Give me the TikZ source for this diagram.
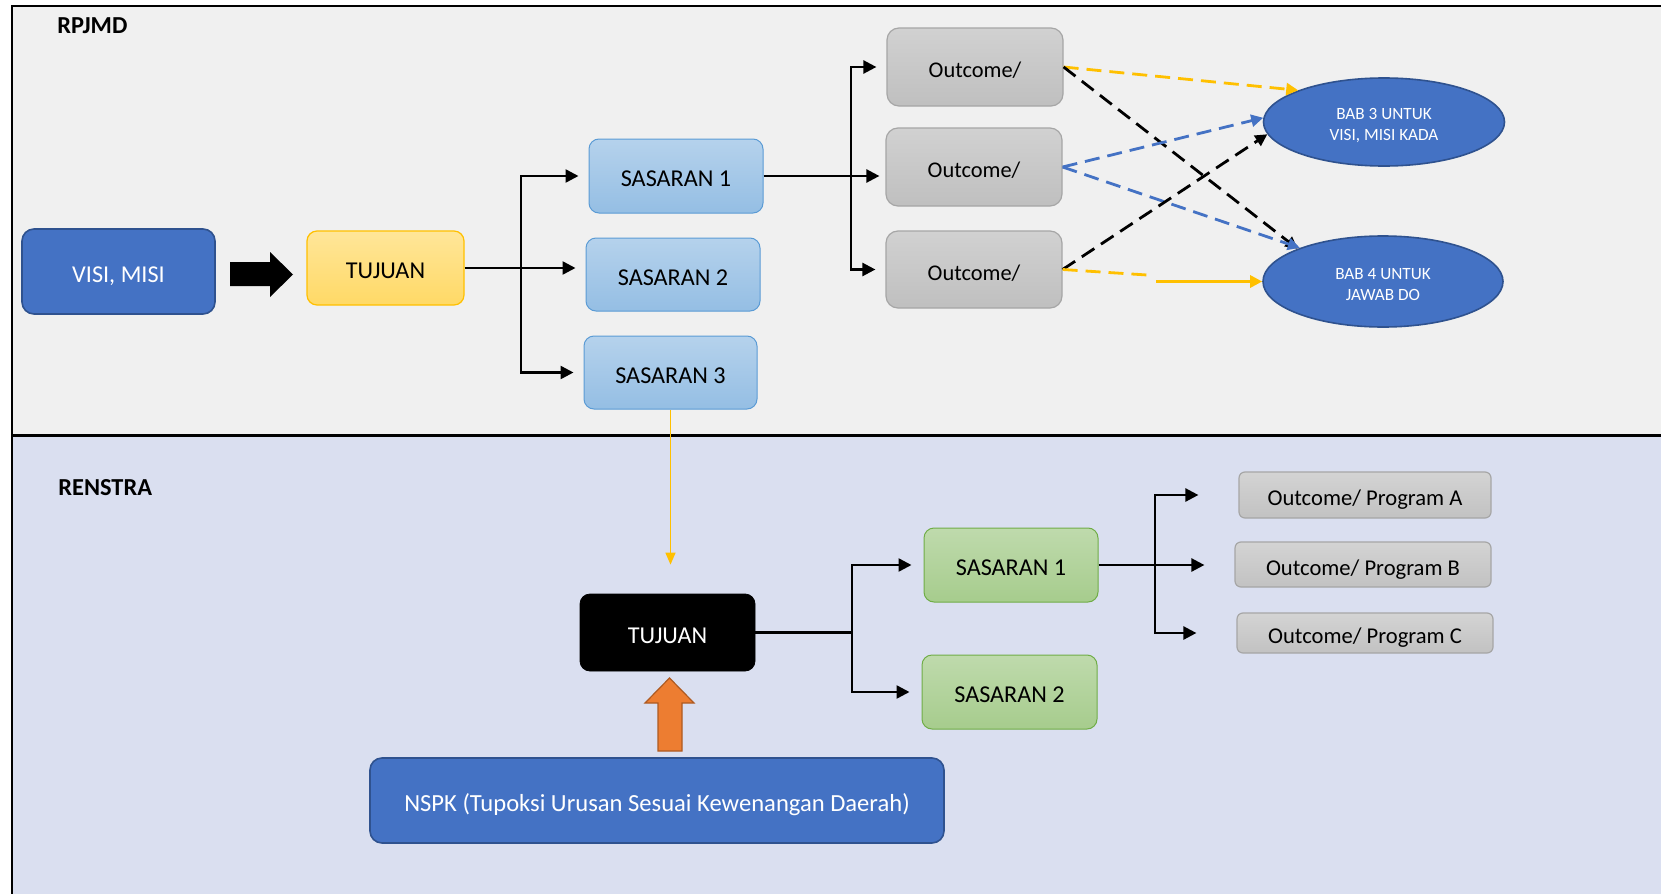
\documentclass[tikz,border=0pt]{standalone}
\usepackage{fontspec}
\setmainfont{Carlito}
\usetikzlibrary{arrows.meta,shapes.geometric}
\definecolor{bgtop}{HTML}{F0F0F0}
\definecolor{bgbot}{HTML}{DADFF0}
\definecolor{offblue}{HTML}{4472C4}
\definecolor{offbluedk}{HTML}{2F528F}
\definecolor{offyellow}{HTML}{FFC000}
\definecolor{offorange}{HTML}{ED7D31}
\definecolor{offorangedk}{HTML}{AE5A21}
\definecolor{offgreen}{HTML}{70AD47}
\definecolor{skyblue}{HTML}{5B9BD5}
\definecolor{midgray}{HTML}{A6A6A6}

\begin{document}
\begin{tikzpicture}[x=0.5pt, y=-0.5pt,
    box/.style={draw, rounded corners=5pt, align=center, inner sep=0pt, text height=10.6pt, text depth=0pt,
      font=\fontsize{12.1}{14}\selectfont},
    bluebox/.style={box, fill=offblue, draw=offbluedk, line width=0.8pt, text=white, rounded corners=6pt},
    yelbox/.style={box, top color=offyellow!40, bottom color=offyellow!60, draw=offyellow, line width=0.6pt},
    sasbox/.style={box, top color=skyblue!45, bottom color=skyblue!65, draw=skyblue, line width=0.5pt},
    ocbox/.style={box, top color=black!18, bottom color=black!25, draw=midgray, line width=0.6pt, rounded corners=6pt,
      font=\fontsize{11.2}{13}\selectfont},
    grnbox/.style={box, top color=offgreen!45, bottom color=offgreen!62, draw=offgreen, line width=0.5pt},
    prgbox/.style={box, top color=black!17, bottom color=black!24, draw=midgray, line width=0.6pt, rounded corners=3pt,
      font=\fontsize{11.3}{13}\selectfont},
    blkbox/.style={box, fill=black, text=white},
    babell/.style={ellipse, draw=offbluedk, fill=offblue, line width=0.8pt, text=white, align=center,
      inner sep=0pt, font=\fontsize{8.6}{10.5}\selectfont},
    lbl/.style={font=\fontsize{12.2}{14}\selectfont\bfseries, inner sep=0pt},
    conn/.style={line width=1.25pt, -{Triangle[length=6.5pt,width=6.5pt]}, shorten >=5pt},
    dashln/.style={line width=1.4pt, dash pattern=on 7.5pt off 4pt, -{Triangle[length=6pt,width=6pt]}}]
  \useasboundingbox (0,0) rectangle (1661,894);
  % the two panels
  \fill[bgtop] (11.5,6) rectangle (1661,435);
  \fill[bgbot] (11.5,435) rectangle (1661,894);
  \draw[line width=1pt] (11.5,894) -- (11.5,6) -- (1661,6);
  \draw[line width=1.5pt] (11.5,435) -- (1661,435);
  \node[lbl, anchor=west] (rpjmd) at (57,26) {RPJMD};
  \node[lbl, anchor=west] (renstra) at (58,488) {RENSTRA};

  % RPJMD
  \node[bluebox, minimum width=96.5pt, minimum height=42.5pt] (visi) at (118.5,271.5) {VISI, MISI};
  \node[yelbox, minimum width=78.5pt, minimum height=37pt] (tuj1) at (385.5,268) {TUJUAN};
  \node[sasbox, minimum width=87pt, minimum height=37pt] (sas1) at (676,176) {SASARAN 1};
  \node[sasbox, minimum width=87pt, minimum height=36.5pt] (sas2) at (673,274.5) {SASARAN 2};
  \node[sasbox, minimum width=86.5pt, minimum height=36.5pt] (sas3) at (670.5,372.5) {SASARAN 3};
  \node[ocbox, minimum width=88pt, minimum height=39pt] (oc1) at (975,67) {Outcome/};
  \node[ocbox, minimum width=88pt, minimum height=39pt] (oc2) at (974,167) {Outcome/};
  \node[ocbox, minimum width=88pt, minimum height=38.5pt] (oc3) at (974,269.5) {Outcome/};
  \node[babell, minimum width=120.5pt, minimum height=44pt] (bab3) at (1384,122) {\rule{0pt}{9pt}BAB 3 UNTUK\\VISI, MISI KADA};
  \node[babell, minimum width=120pt, minimum height=45.5pt] (bab4) at (1383,281.5) {\rule{0pt}{9pt}BAB 4 UNTUK\\JAWAB DO};

  \fill (230,262) -- (270,262) -- (270,252) -- (293,274.5) -- (270,297) -- (270,286) -- (230,286) -- cycle;
  \coordinate (br1) at (521,268);
  \draw[conn] (tuj1.east) -- (tuj1.east -| sas2.west);
  \draw[conn] (br1) |- (sas1.west);
  \draw[conn] (br1) |- (sas3.west);
  \coordinate (br2) at (851,176);
  \draw[conn, shorten >=3pt] (sas1.east) -- (sas1.east -| oc2.west);
  \draw[conn] (br2) |- (oc1.west);
  \draw[conn] (br2) |- (oc3.west);

  \draw[dashln, offyellow] (oc1.east) -- (bab3.north west);
  \draw[dashln] (oc1.east) -- (bab4.north west);
  \draw[dashln, offblue] (oc2.east) -- (bab3.178);
  \draw[dashln, offblue] (oc2.east) -- (bab4.158);
  \draw[dashln] (oc3.east) -- (bab3.186);
  \coordinate (ygap1) at (1147,275);
  \coordinate (ygap2) at (1156,281.5);
  \draw[dashln, offyellow, -] (oc3.east) -- (ygap1);
  \draw[line width=1.4pt, offyellow, -{Triangle[length=6pt,width=6pt]}] (ygap2) -- (bab4.west);

  % RENSTRA
  \node[blkbox, minimum width=87.5pt, minimum height=38.5pt] (tuj2) at (667.5,632.5) {TUJUAN};
  \node[bluebox, minimum width=287pt, minimum height=42.5pt, font=\fontsize{12.3}{14}\selectfont] (nspk) at (657,800.5) {NSPK (Tupoksi Urusan Sesuai Kewenangan Daerah)};
  \node[grnbox, minimum width=87pt, minimum height=37pt] (gs1) at (1011,565) {SASARAN 1};
  \node[grnbox, minimum width=87.5pt, minimum height=37pt] (gs2) at (1009.5,692) {SASARAN 2};
  \node[prgbox, minimum width=126pt, minimum height=23pt] (pa) at (1365,495) {Outcome/ Program A};
  \node[prgbox, minimum width=128pt, minimum height=22.5pt] (pb) at (1363,564.5) {Outcome/ Program B};
  \node[prgbox, minimum width=128pt, minimum height=20pt] (pc) at (1365,633) {Outcome/ Program C};

  \draw[offyellow, line width=0.8pt, -{Triangle[length=6pt,width=5pt]}, shorten >=14.5pt]
    (sas3.south) -- (sas3.south |- tuj2.north);
  \filldraw[fill=offorange, draw=offorangedk, line width=0.6pt]
    (658,751) -- (658,703) -- (645,703) -- (669.5,678) -- (694,703) -- (682,703) -- (682,751) -- cycle;
  \coordinate (br3) at (852,632.5);
  \draw[line width=1.25pt] (tuj2.east) -- (br3);
  \draw[conn, shorten >=6pt] (br3) |- (gs1.west);
  \draw[conn, shorten >=6pt] (br3) |- (gs2.west);
  \coordinate (br4) at (1155,565);
  \draw[conn, shorten >=15pt] (gs1.east) -- (gs1.east -| pb.west);
  \draw[conn, shorten >=20pt] (br4) |- (pa.west);
  \draw[conn, shorten >=20pt] (br4) |- (pc.west);
\end{tikzpicture}
\end{document}
